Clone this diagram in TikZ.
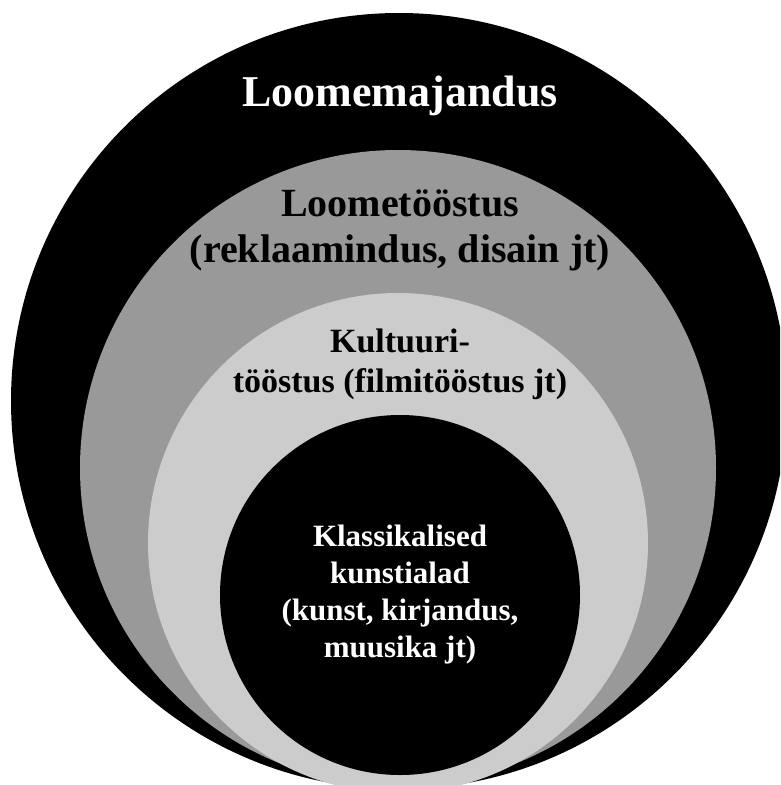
\documentclass[tikz,border=0pt]{standalone}
\usepackage{fontspec}
\setmainfont{Liberation Serif}
\usepackage{tikz}
\usetikzlibrary{positioning}
\definecolor{midgrey}{RGB}{153,153,153}
\definecolor{palegrey}{RGB}{204,204,204}

\begin{document}
\begin{tikzpicture}[
  x=1pt,y=-1pt,
  lbl/.style={align=center,inner sep=0pt,anchor=base},
  big/.style={font=\fontsize{44}{50}\selectfont\bfseries},
  mid/.style={font=\fontsize{40}{46}\selectfont\bfseries},
  small/.style={font=\fontsize{34}{40}\selectfont\bfseries},
  tiny/.style={font=\fontsize{31}{37}\selectfont\bfseries}
]
\useasboundingbox (0,0) rectangle (780,785);
\clip (0,0) rectangle (780,785);
% rings, outside in
\fill[black] (399,401) circle[radius=388pt];
\fill[midgrey] (398,468) circle[radius=318pt];
\fill[palegrey] (398,543) circle[radius=250pt];
\fill[black] (400,595) circle[radius=180pt];
% labels (base = last line)
\node[lbl,big,text=white] (majandus) at (400,106) {Loomemajandus};
\node[lbl,mid] (toostus) at (400,262) {Loometööstus\\(reklaamindus, disain jt)};
\node[lbl,small] (kultuur) at (400,392) {Kultuuri-\\tööstus (filmitööstus jt)};
\node[lbl,tiny,text=white] (kunst) at (400,657) {Klassikalised\\kunstialad\\(kunst, kirjandus,\\muusika jt)};
\end{tikzpicture}
\end{document}
